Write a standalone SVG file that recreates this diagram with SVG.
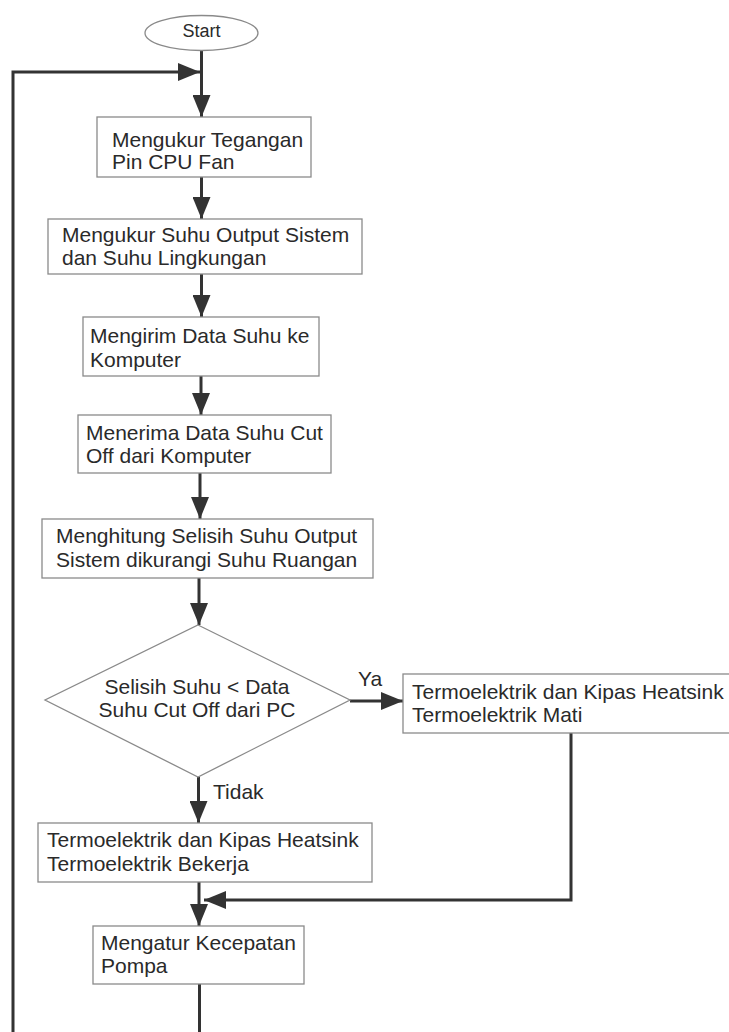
<svg xmlns="http://www.w3.org/2000/svg" width="729" height="1032" viewBox="0 0 729 1032">
<defs>
<marker id="ah" viewBox="0 0 22 18" refX="22" refY="9" markerWidth="22" markerHeight="18" markerUnits="userSpaceOnUse" orient="auto">
<path d="M0,0 L22,9 L0,18 z" fill="#333"/>
</marker>
<style>
.box{fill:#fff;stroke:#8a8a8a;stroke-width:1.3}
.t{font-family:"Liberation Sans",Arial,sans-serif;font-size:21px;fill:#2a2a2a}
.c{stroke:#333;stroke-width:3;fill:none}
.a{stroke:#333;stroke-width:3;fill:none;marker-end:url(#ah)}
</style>
</defs>
<rect width="729" height="1032" fill="#fff"/>

<g id="connectors">
<line class="a" x1="201.5" y1="50.5" x2="201.5" y2="117"/>
<polyline class="a" points="13,1032 13,72 200,72"/>
<line class="a" x1="201.5" y1="177" x2="201.5" y2="219"/>
<line class="a" x1="201.5" y1="274" x2="201.5" y2="317"/>
<line class="a" x1="201" y1="376" x2="201" y2="415"/>
<line class="a" x1="200" y1="473" x2="200" y2="519"/>
<line class="a" x1="199" y1="578" x2="199" y2="625"/>
<line class="a" x1="350" y1="701" x2="403" y2="701"/>
<line class="a" x1="198.5" y1="777" x2="198.5" y2="823"/>
<line class="a" x1="199" y1="882" x2="199" y2="926"/>
<polyline class="a" points="571,733 571,900 204,900"/>
<line class="c" x1="199.5" y1="984" x2="199.5" y2="1032"/>
<text class="t" x="358" y="686">Ya</text>
<text class="t" x="213" y="799">Tidak</text>
</g>

<g id="start">
<ellipse cx="201.5" cy="33" rx="56.5" ry="17.5" class="box"/>
<text class="t" x="201.5" y="37" text-anchor="middle" style="font-size:18px">Start</text>
</g>

<g id="box1">
<rect class="box" x="97" y="117" width="214" height="60"/>
<text class="t" x="112" y="147">Mengukur Tegangan</text>
<text class="t" x="112" y="169">Pin CPU Fan</text>
</g>

<g id="box2">
<rect class="box" x="48" y="219" width="314" height="55"/>
<text class="t" x="62" y="242">Mengukur Suhu Output Sistem</text>
<text class="t" x="62" y="265">dan Suhu Lingkungan</text>
</g>

<g id="box3">
<rect class="box" x="83" y="317" width="236" height="59"/>
<text class="t" x="90" y="343">Mengirim Data Suhu ke</text>
<text class="t" x="90" y="367">Komputer</text>
</g>

<g id="box4">
<rect class="box" x="78" y="415" width="253" height="58"/>
<text class="t" x="86" y="440">Menerima Data Suhu Cut</text>
<text class="t" x="86" y="463">Off dari Komputer</text>
</g>

<g id="box5">
<rect class="box" x="42" y="519" width="331" height="59"/>
<text class="t" x="56" y="543">Menghitung Selisih Suhu Output</text>
<text class="t" x="56" y="567">Sistem dikurangi Suhu Ruangan</text>
</g>

<g id="decision">
<polygon class="box" points="198,625 350,700 198,777 45,700"/>
<text class="t" x="197" y="694" text-anchor="middle">Selisih Suhu &lt; Data</text>
<text class="t" x="197" y="717" text-anchor="middle">Suhu Cut Off dari PC</text>
</g>

<g id="box6">
<rect class="box" x="403" y="674" width="340" height="59"/>
<text class="t" x="412" y="699">Termoelektrik dan Kipas Heatsink</text>
<text class="t" x="412" y="722">Termoelektrik Mati</text>
</g>

<g id="box7">
<rect class="box" x="38" y="823" width="334" height="59"/>
<text class="t" x="47" y="847">Termoelektrik dan Kipas Heatsink</text>
<text class="t" x="47" y="871">Termoelektrik Bekerja</text>
</g>

<g id="box8">
<rect class="box" x="93" y="926" width="211" height="58"/>
<text class="t" x="101" y="950">Mengatur Kecepatan</text>
<text class="t" x="101" y="973">Pompa</text>
</g>
</svg>
